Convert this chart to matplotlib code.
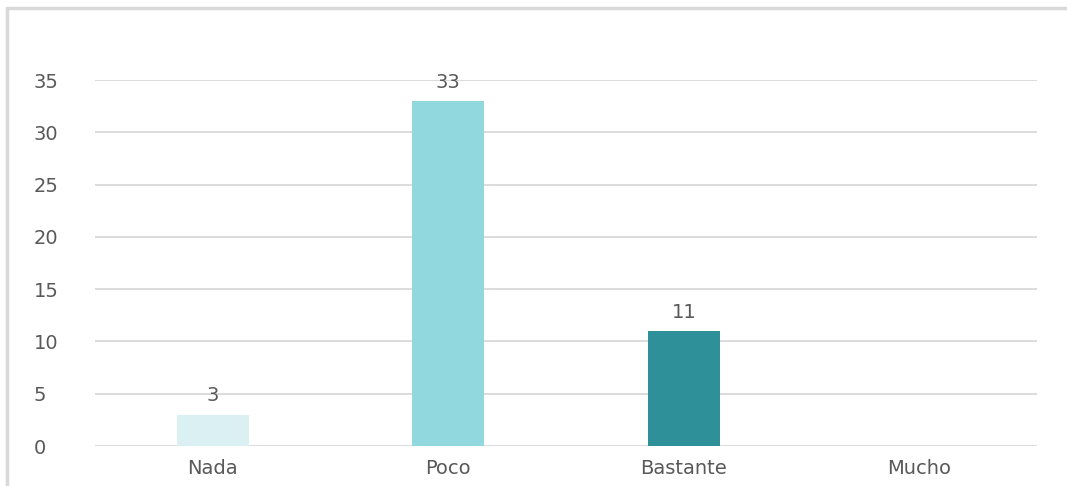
import matplotlib.pyplot as plt
from matplotlib.patches import Rectangle

# DATOS
categorias = ["Nada", "Poco", "Bastante", "Mucho"]
valores = [3, 33, 11, 0]
colores = ["#DAF0F3", "#90D8DE", "#2E9199", "#1B5E63"]
ticks_y = [0, 5, 10, 15, 20, 25, 30, 35]

GRIS_TEXTO = "#595959"
GRIS_LINEA = "#D9D9D9"

plt.rcParams["font.family"] = ["DejaVu Sans"]

W, H = 1067, 486
fig = plt.figure(figsize=(W / 100, H / 100), dpi=100)
ax = fig.add_axes([95 / W, 1 - 446 / H, 942 / W, 366 / H])

x = range(len(categorias))
barras = ax.bar(x, valores, color=colores, width=0.306, zorder=3)
for barra, valor in zip(barras, valores):
    if valor > 0:
        ax.text(barra.get_x() + barra.get_width() / 2, valor + 0.9, str(valor),
                ha="center", va="bottom", fontsize=14, color=GRIS_TEXTO)

ax.set_xlim(-0.5, len(categorias) - 0.5)
ax.set_ylim(0, 35)
ax.set_yticks(ticks_y)
ax.set_xticks(list(x))
ax.set_xticklabels(categorias)
ax.tick_params(axis="both", length=0, labelsize=14, labelcolor=GRIS_TEXTO)
ax.tick_params(axis="y", pad=44)
ax.tick_params(axis="x", pad=9)
for lbl in ax.get_yticklabels():
    lbl.set_horizontalalignment("left")
ax.grid(axis="y", color=GRIS_LINEA, linewidth=1.3, zorder=0)
for s in ax.spines.values():
    s.set_visible(False)

# MARCO EXTERIOR
fig.patches.append(Rectangle((6.5 / W, -0.1), 1.2, 1 - 8 / H + 0.1, transform=fig.transFigure,
                             fill=False, edgecolor=GRIS_LINEA, linewidth=2.5))

fig.savefig("out.png", dpi=100)
